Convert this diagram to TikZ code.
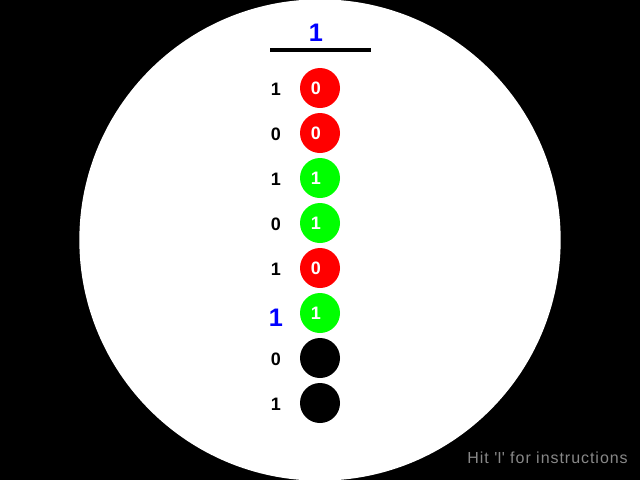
\documentclass[tikz,border=0pt]{standalone}
\usepackage{fontspec}
\setmainfont{Liberation Sans}
\definecolor{bitred}{RGB}{255,0,0}
\definecolor{bitgreen}{RGB}{0,255,0}
\definecolor{bitblue}{RGB}{0,0,255}
\definecolor{hintgray}{RGB}{136,136,136}
\begin{document}
\begin{tikzpicture}[x=0.75pt,y=-0.75pt,
  bitdigit/.style={inner sep=0pt,text=white,xshift=-3pt,font=\fontsize{13.5}{14}\selectfont\bfseries},
  bit/.style={circle,minimum size=30pt,inner sep=0pt},
  redbit/.style={bit,fill=bitred,label={[bitdigit]center:#1}},
  greenbit/.style={bit,fill=bitgreen,label={[bitdigit]center:#1}},
  blackbit/.style={bit,fill=black},
  lbl/.style={inner sep=0pt,font=\fontsize{13.5}{14}\selectfont\bfseries},
  biglbl/.style={inner sep=0pt,text=bitblue,font=\fontsize{19}{20}\selectfont\bfseries}]
\useasboundingbox (0,0) rectangle (640,480);
\fill[black] (0,0) rectangle (640,480);
\fill[white] (320,240) circle[radius=180.5pt];
\node[biglbl] (top) at (316,33) {1};
\coordinate (barl) at (270,50);
\coordinate (barr) at (371,50);
\draw[line width=3pt,black] (barl) -- (barr);
\node[lbl] (l1) at (276,89) {1};
\node[lbl] (l2) at (276,134) {0};
\node[lbl] (l3) at (276,179) {1};
\node[lbl] (l4) at (276,224) {0};
\node[lbl] (l5) at (276,269) {1};
\node[biglbl] (l6) at (276,318) {1};
\node[lbl] (l7) at (276,359) {0};
\node[lbl] (l8) at (276,404) {1};
\node[redbit=0] (c1) at (320,88) {};
\node[redbit=0] (c2) at (320,133) {};
\node[greenbit=1] (c3) at (320,178) {};
\node[greenbit=1] (c4) at (320,223) {};
\node[redbit=0] (c5) at (320,268) {};
\node[greenbit=1] (c6) at (320,313) {};
\node[blackbit] (c7) at (320,358) {};
\node[blackbit] (c8) at (320,403) {};
\node[anchor=base east,inner sep=0pt,text=hintgray,font=\fontsize{12}{13}\selectfont\addfontfeatures{LetterSpace=6}] (hint) at (628,463) {Hit \textquotesingle I\textquotesingle{} for instructions};
\end{tikzpicture}
\end{document}
